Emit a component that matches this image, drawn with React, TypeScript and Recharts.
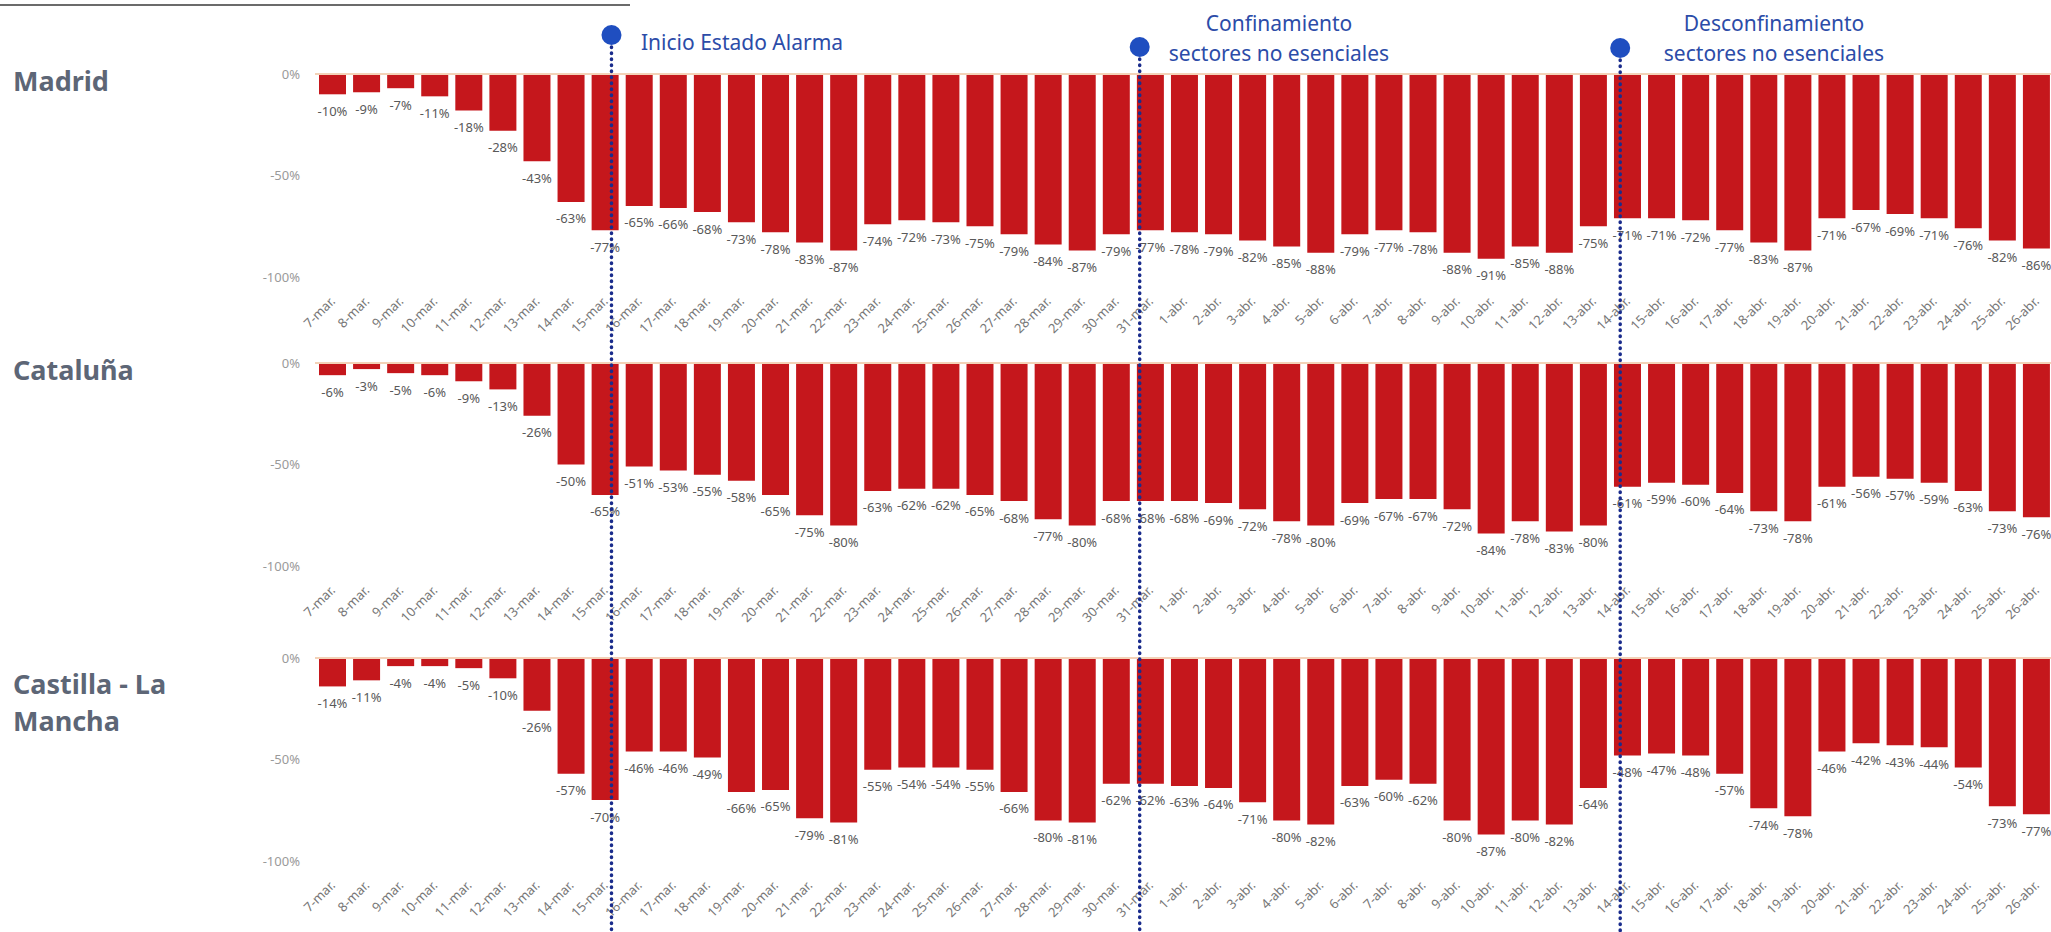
import { BarChart, Bar, XAxis, YAxis, ReferenceLine, LabelList, ComposedChart, Scatter } from "recharts";

const days = [
  "7-mar.", "8-mar.", "9-mar.", "10-mar.", "11-mar.", "12-mar.", "13-mar.", "14-mar.", "15-mar.", "16-mar.",
  "17-mar.", "18-mar.", "19-mar.", "20-mar.", "21-mar.", "22-mar.", "23-mar.", "24-mar.", "25-mar.", "26-mar.",
  "27-mar.", "28-mar.", "29-mar.", "30-mar.", "31-mar.", "1-abr.", "2-abr.", "3-abr.", "4-abr.", "5-abr.",
  "6-abr.", "7-abr.", "8-abr.", "9-abr.", "10-abr.", "11-abr.", "12-abr.", "13-abr.", "14-abr.", "15-abr.",
  "16-abr.", "17-abr.", "18-abr.", "19-abr.", "20-abr.", "21-abr.", "22-abr.", "23-abr.", "24-abr.", "25-abr.",
  "26-abr.",
];

const madrid = [
  -10, -9, -7, -11, -18, -28, -43, -63, -77, -65, -66, -68, -73, -78, -83, -87, -74, -72, -73, -75,
  -79, -84, -87, -79, -77, -78, -79, -82, -85, -88, -79, -77, -78, -88, -91, -85, -88, -75, -71, -71,
  -72, -77, -83, -87, -71, -67, -69, -71, -76, -82, -86,
];

const cataluna = [
  -6, -3, -5, -6, -9, -13, -26, -50, -65, -51, -53, -55, -58, -65, -75, -80, -63, -62, -62, -65,
  -68, -77, -80, -68, -68, -68, -69, -72, -78, -80, -69, -67, -67, -72, -84, -78, -83, -80, -61, -59,
  -60, -64, -73, -78, -61, -56, -57, -59, -63, -73, -76,
];

const castilla = [
  -14, -11, -4, -4, -5, -10, -26, -57, -70, -46, -46, -49, -66, -65, -79, -81, -55, -54, -54, -55,
  -66, -80, -81, -62, -62, -63, -64, -71, -80, -82, -63, -60, -62, -80, -87, -80, -82, -64, -48, -47,
  -48, -57, -74, -78, -46, -42, -43, -44, -54, -73, -77,
];

const regionNames = [["Madrid"], ["Cataluña"], ["Castilla - La", "Mancha"]];
const regionValues = [madrid, cataluna, castilla];

// position of each event along the day axis (index units) and the dot height
const eventPos = [8.2, 23.7, 37.8];
const eventDotY = [35, 47, 48];
const eventText = [["Inicio Estado Alarma"], ["Confinamiento", "sectores no esenciales"], ["Desconfinamiento", "sectores no esenciales"]];

const FONT = '"Noto Sans", "Open Sans", sans-serif';
const RED = "#C5171C";
const BLUE = "#2C4CA8";

// zero line of each panel, in page pixels
const panelZero = [74, 363, 658];
const PLOT_H = 203;
const TOP_PAD = 20;

function DayTick(props: any) {
  const { x, y, payload } = props;
  const tx = x + 4;
  const ty = y + 25;
  return (
    <text x={tx} y={ty} transform={`rotate(-45 ${tx} ${ty})`} textAnchor="end" fontSize={13} fill="#777" fontFamily={FONT}>
      {payload.value}
    </text>
  );
}

function ValueLabel(props: any) {
  const { x, y, width, height, value } = props;
  const bottom = Math.max(y, y + height);
  return (
    <text x={x + width / 2} y={bottom + 17} dy={4.5} textAnchor="middle" fontSize={13} fill="#595959" fontFamily={FONT}>
      {`${value}%`}
    </text>
  );
}

function Panel({ values }: { values: number[] }) {
  const data = days.map((d, i) => ({ day: d, value: values[i] }));
  return (
    <BarChart width={2060} height={TOP_PAD + PLOT_H + 60} data={data} margin={{ top: TOP_PAD, right: 7, bottom: 0, left: 255 }}>
      <XAxis dataKey="day" interval={0} tick={<DayTick />} tickLine={false} axisLine={false} tickSize={0} tickMargin={0} height={60} />
      <YAxis
        domain={[-100, 0]}
        ticks={[-100, -50, 0]}
        tickFormatter={(v) => `${v}%`}
        tick={{ fontSize: 13, fill: "#9a9a9a", fontFamily: FONT }}
        tickLine={false}
        axisLine={false}
        tickSize={0}
        tickMargin={15}
        width={60}
      />
      <ReferenceLine y={0} stroke="#F3D2B8" strokeWidth={2} />
      <Bar dataKey="value" fill={RED} barSize={27} isAnimationActive={false}>
        <LabelList dataKey="value" content={<ValueLabel />} />
      </Bar>
    </BarChart>
  );
}

export default function App() {
  const events = eventPos.map((p, i) => ({ pos: p, dotY: eventDotY[i] }));
  return (
    <div style={{ position: "absolute", left: 0, top: 0, width: 2051, height: 932, overflow: "hidden", background: "#fff", fontFamily: FONT }}>
      <div style={{ position: "absolute", left: 0, top: 4, width: 630, height: 2, background: "#6b6b6b" }} />

      {regionNames.map((lines, i) => (
        <div
          key={i}
          style={{ position: "absolute", left: 13, top: panelZero[i] - 12 + (i === 2 ? 19 : 0), fontSize: 27, fontWeight: 700, lineHeight: "37px", color: "#5D6676" }}
        >
          {lines.map((l) => (
            <div key={l}>{l}</div>
          ))}
        </div>
      ))}

      {regionValues.map((vals, i) => (
        <div key={i} style={{ position: "absolute", left: 0, top: panelZero[i] - TOP_PAD }}>
          <Panel values={vals} />
        </div>
      ))}

      <div style={{ position: "absolute", left: 0, top: 0, pointerEvents: "none" }}>
        <ComposedChart width={2060} height={932} data={events} margin={{ top: 0, right: 7, bottom: 0, left: 315 }}>
          <XAxis type="number" dataKey="pos" domain={[-0.5, 50.5]} hide height={0} />
          <YAxis type="number" dataKey="dotY" domain={[0, 932]} reversed hide width={0} />
          {events.map((e, i) => (
            <ReferenceLine
              key={i}
              segment={[{ x: e.pos, y: e.dotY }, { x: e.pos, y: 932 }]}
              stroke="#1A2C8C"
              strokeWidth={3.5}
              strokeDasharray="0.5 5.5"
              strokeLinecap="round"
              ifOverflow="visible"
            />
          ))}
          <Scatter
            dataKey="dotY"
            isAnimationActive={false}
            shape={(p: any) => <circle cx={p.cx} cy={p.cy} r={10} fill="#1F4EC0" />}
          />
        </ComposedChart>
      </div>

      <div style={{ position: "absolute", left: 641, top: 27, fontSize: 21, lineHeight: "30px", color: BLUE, whiteSpace: "nowrap" }}>
        {eventText[0][0]}
      </div>
      {[1, 2].map((k) => (
        <div
          key={k}
          style={{ position: "absolute", left: (k === 1 ? 1279 : 1774) - 150, top: 8, width: 300, textAlign: "center", fontSize: 21, lineHeight: "30px", color: BLUE }}
        >
          {eventText[k].map((l) => (
            <div key={l}>{l}</div>
          ))}
        </div>
      ))}
    </div>
  );
}
